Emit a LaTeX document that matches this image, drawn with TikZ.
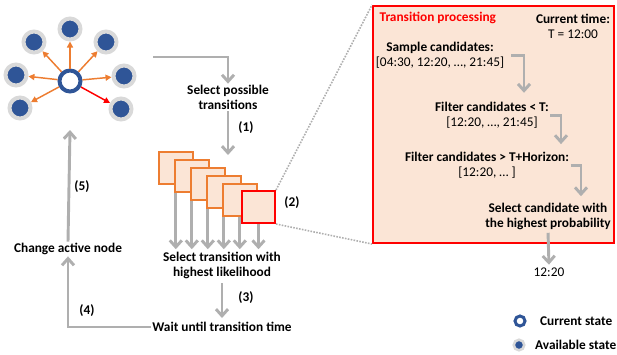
\documentclass[tikz,border=0pt]{standalone}
\usepackage{fontspec}
\setmainfont{Carlito}
\usetikzlibrary{positioning, arrows.meta, calc}
\definecolor{stateblue}{RGB}{47, 85, 151}
\definecolor{ringgray}{RGB}{217, 217, 217}
\definecolor{flowgray}{RGB}{175, 175, 175}
\definecolor{candorange}{RGB}{237, 125, 49}
\definecolor{candfill}{RGB}{251, 229, 214}
\definecolor{procred}{RGB}{255, 0, 0}
\pgfdeclarelayer{background}
\pgfsetlayers{background,main}

\begin{document}
\begin{tikzpicture}[x=0.75pt, y=-0.75pt,
      txt/.style={font=\fontsize{10}{11.3}\selectfont\bfseries, align=center, inner sep=1pt},
      plain/.style={font=\fontsize{10}{11.3}\selectfont, align=center, inner sep=1pt},
      avail/.style={circle, fill=stateblue, draw=ringgray, line width=3pt,
                    minimum size=15.75pt, inner sep=0pt},
      current/.style={circle, fill=white, draw=stateblue, line width=3pt,
                      minimum size=15.75pt, inner sep=0pt},
      spoke/.style={-{Triangle[length=4.5pt, width=4.5pt]}, line width=1.1pt, candorange},
      flow/.style={-{Straight Barb[length=5pt, width=9pt]}, line width=2.2pt, flowgray},
      cand/.style={draw=candorange, fill=candfill, line width=1.2pt, anchor=north west,
                   minimum width=25.5pt, minimum height=24pt, inner sep=0pt},
      zoomline/.style={densely dotted, line width=1.2pt, flowgray}]
    \useasboundingbox (0,0) rectangle (617,354);

    \node[current] (cur) at (70,81) {};
    \node[avail] (st1) at (70,29) {};
    \node[avail] (st2) at (34,42) {};
    \node[avail] (st3) at (106,42) {};
    \node[avail] (st4) at (16,75) {};
    \node[avail] (st5) at (124,76) {};
    \node[avail] (st6) at (20,108) {};
    \node[avail] (st7) at (121,109) {};
    \foreach \s in {st1,st2,st3,st4,st5,st6} \draw[spoke] (cur) -- (\s);
    \draw[spoke, procred] (cur) -- (st7);

    \node[txt] (sel1) at (228,97.5) {Select possible\\transitions};
    \node[txt] (sel2) at (222,265.5) {Select transition with\\highest likelihood};
    \node[txt] (wait) at (222,327) {Wait until transition time};
    \node[txt] (change) at (68,249) {Change active node};
    \node[txt] (l1) at (246,128) {(1)};
    \node[txt] (l2) at (292,203) {(2)};
    \node[txt] (l3) at (246,298) {(3)};
    \node[txt] (l4) at (87,311) {(4)};
    \node[txt] (l5) at (82,187) {(5)};

    \foreach \i/\x/\y in {1/158/151, 2/174/159, 3/190/167, 4/206/175, 5/222/183}
      \node[cand] (sq\i) at (\x,\y) {};
    \node[cand, draw=procred, line width=1.5pt, minimum width=24.75pt] (sq6) at (241,190) {};
    \begin{pgfonlayer}{background}
      \foreach \i in {1,...,6}
        \draw[flow, shorten >=1pt] (sq\i.center) -- (sq\i.center |- sel2.north);
    \end{pgfonlayer}

    \coordinate (netout) at (153,57);
    \coordinate (stack) at (228,155);
    \coordinate (netin) at (70,130);
    \draw[flow] (netout) -| (sel1.north);
    \draw[flow] (sel1.south) -- (stack);
    \draw[flow, shorten <=2pt, shorten >=2pt] (sel2.south) -- (wait.north);
    \draw[flow] (wait.west) -| (change.south);
    \draw[flow] (change.north) -- (netin);

    \node[draw=procred, fill=candfill, line width=1.5pt, anchor=north west, inner sep=0pt,
          minimum width=180.75pt, minimum height=177.75pt] (proc) at (372,5) {};
    \draw[zoomline] (sq6.north east) -- (proc.north west);
    \draw[zoomline] (sq6.south east) -- (proc.south west);

    \node[txt, procred, anchor=west] (title) at (378,18) {Transition processing};
    \node[txt] (now) at (573,26) {Current time:\\{\mdseries T = 12:00}};
    \node[txt] (samp) at (440,55.5) {Sample candidates:\\{\mdseries [04:30, 12:20, …, 21:45]}};
    \node[txt] (filt1) at (492,115.5) {Filter candidates < T:\\{\mdseries [12:20, …, 21:45]}};
    \node[txt] (filt2) at (487,165.5) {Filter candidates > T+Horizon:\\{\mdseries [12:20, … ]}};
    \node[txt] (selc) at (548,216.5) {Select candidate with\\the highest probability};
    \node[plain] (res) at (549,272) {12:20};
    \draw[flow, shorten >=6pt] ([xshift=4pt]samp.east) -| ($(filt1.north)+(32,0)$);
    \draw[flow, shorten >=5pt] (filt1.east) -| ($(filt2.north)+(74,0)$);
    \draw[flow, shorten >=4pt] (filt2.east) -| ($(selc.north)+(33,0)$);
    \draw[flow, shorten <=1pt, shorten >=1pt] (selc.south) -- (res.north);

    \node[current, line width=2.25pt, minimum size=7.5pt] (legcur) at (520,321) {};
    \node[txt, right=9pt of legcur] (legcurtxt) {Current state};
    \node[avail, line width=1.9pt, minimum size=7.9pt] (legavail) at (519,345) {};
    \node[txt, right=6pt of legavail] (legavailtxt) {Available state};
  \end{tikzpicture}
\end{document}
